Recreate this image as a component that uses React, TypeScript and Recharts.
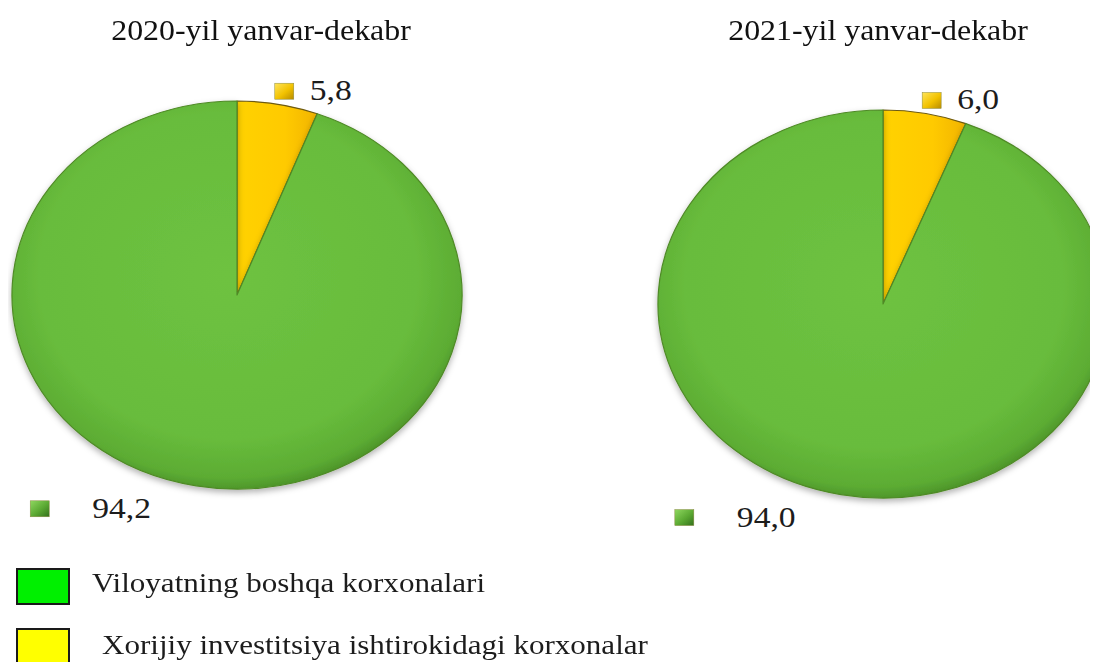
import React from 'react';
import { PieChart, Pie, Cell, Legend } from 'recharts';

// categories in data order (yellow slice first, starts at 12 o'clock)
const CATEGORIES = ['Xorijiy investitsiya ishtirokidagi korxonalar', 'Viloyatning boshqa korxonalari'];
const TITLES = ['2020-yil yanvar-dekabr', '2021-yil yanvar-dekabr'];
const VALUES_2020 = [5.8, 94.2];
const VALUES_2021 = [6.0, 94.0];
const LEGEND_ORDER = [1, 0];

const SLICE_FILLS = ['url(#gYellow)', 'url(#gGreen)'];
const MARKER_FILLS = ['url(#mYellow)', 'url(#mGreen)'];
const LEGEND_FILLS = ['#ffff00', '#00f000'];

const W = 1090;
const H = 654;
const STRETCH = 1.16; // pies are drawn as ellipses, like the original
const RAD = Math.PI / 180;
const FONT = '"Liberation Serif", "Times New Roman", serif';

const PIES = [
    { cx: 229, cy: 287, r: 194, values: VALUES_2020, title: TITLES[0], titleX: 253 },
    { cx: 875, cy: 296, r: 194, values: VALUES_2021, title: TITLES[1], titleX: 870 },
];

// label placement relative to the slice's mid point on the rim
const LABEL_NUDGE = [
    { dx: -3, dy: -21, gap: 35 },
    { dx: -166, dy: 15, gap: 62 },
];

const fmt = (v: number) => v.toFixed(1).replace('.', ',');

const EllipseSlice = (props: any) => {
    const { cx, cy, outerRadius, startAngle, endAngle, fill } = props;
    const rx = outerRadius * STRETCH;
    const ry = outerRadius;
    const pt = (a: number) => [cx + rx * Math.cos(-a * RAD), cy + ry * Math.sin(-a * RAD)];
    const [x1, y1] = pt(startAngle);
    const [x2, y2] = pt(endAngle);
    const large = Math.abs(endAngle - startAngle) > 180 ? 1 : 0;
    const sweep = startAngle > endAngle ? 1 : 0;
    const d = `M${cx},${cy} L${x1},${y1} A${rx},${ry} 0 ${large} ${sweep} ${x2},${y2} Z`;
    const big = fill === SLICE_FILLS[1];
    return (
        <path
            d={d}
            fill={fill}
            stroke={big ? '#4f8a26' : '#6d5a12'}
            strokeWidth={1.2}
            strokeLinejoin="round"
            filter={big ? 'url(#pieShadow)' : undefined}
        />
    );
};

const renderLabel = (props: any) => {
    const { cx, cy, midAngle, outerRadius, index, value } = props;
    const px = cx + outerRadius * STRETCH * Math.cos(-midAngle * RAD);
    const py = cy + outerRadius * Math.sin(-midAngle * RAD);
    const n = LABEL_NUDGE[index];
    const mx = px + n.dx;
    const my = py + n.dy;
    return (
        <g>
            <rect x={mx} y={my} width={19} height={16} fill={MARKER_FILLS[index]} stroke="#8a8a40" strokeWidth={0.5} />
            <text
                transform={`translate(${mx + n.gap},${my + 17}) scale(1.12,1)`}
                fontSize={30}
                fontFamily={FONT}
                fill="#1c1c1c"
            >
                {fmt(value)}
            </text>
        </g>
    );
};

const LegendBox = () => (
    <div style={{ position: 'relative', width: 640, height: 120, fontFamily: FONT }}>
        {LEGEND_ORDER.map((ci, i) => (
            <React.Fragment key={ci}>
                <div
                    style={{
                        position: 'absolute',
                        left: 8,
                        top: 20 + i * 60,
                        width: 50,
                        height: 33,
                        background: LEGEND_FILLS[ci],
                        border: '2px solid #1a1a1a',
                    }}
                />
                <div
                    style={{
                        position: 'absolute',
                        left: i === 0 ? 84 : 94,
                        top: 22 + i * 62,
                        fontSize: 27,
                        lineHeight: 1,
                        whiteSpace: 'nowrap',
                        color: '#1c1c1c',
                        transform: 'scaleX(1.15)',
                        transformOrigin: 'left top',
                    }}
                >
                    {CATEGORIES[ci]}
                </div>
            </React.Fragment>
        ))}
    </div>
);

export default function App() {
    return (
        <div style={{ position: 'relative', width: W, height: H, overflow: 'hidden', background: '#fff' }}>
            <svg width={0} height={0} style={{ position: 'absolute' }}>
                <defs>
                    <radialGradient id="gGreen" cx="48%" cy="45%" r="56%">
                        <stop offset="0%" stopColor="#6ec241" />
                        <stop offset="75%" stopColor="#68bc3c" />
                        <stop offset="93%" stopColor="#5cac33" />
                        <stop offset="100%" stopColor="#4a9028" />
                    </radialGradient>
                    <linearGradient id="gYellow" x1="0" y1="0" x2="1" y2="0">
                        <stop offset="0%" stopColor="#ffd200" />
                        <stop offset="60%" stopColor="#ffca00" />
                        <stop offset="100%" stopColor="#f2b400" />
                    </linearGradient>
                    <linearGradient id="mYellow" x1="0" y1="0" x2="1" y2="1">
                        <stop offset="0%" stopColor="#ffe45a" />
                        <stop offset="55%" stopColor="#f2c200" />
                        <stop offset="100%" stopColor="#b88c00" />
                    </linearGradient>
                    <linearGradient id="mGreen" x1="0" y1="0" x2="1" y2="1">
                        <stop offset="0%" stopColor="#8fd860" />
                        <stop offset="55%" stopColor="#5aa832" />
                        <stop offset="100%" stopColor="#33701c" />
                    </linearGradient>
                    <filter id="pieShadow" x="-10%" y="-10%" width="120%" height="125%">
                        <feDropShadow dx="0" dy="3" stdDeviation="3" floodColor="#000" floodOpacity="0.3" />
                    </filter>
                </defs>
            </svg>
            {PIES.map((p) => (
                <div
                    key={p.title}
                    style={{
                        position: 'absolute',
                        left: p.titleX - 200,
                        top: 8,
                        width: 400,
                        textAlign: 'center',
                        fontFamily: FONT,
                        fontSize: 29,
                        lineHeight: 1,
                        color: '#111',
                        transform: 'scaleX(1.1)',
                        whiteSpace: 'nowrap',
                    }}
                >
                    {p.title}
                </div>
            ))}
            <PieChart
                width={W}
                height={H}
                margin={{ top: 0, right: 0, bottom: 0, left: 0 }}
                style={{ position: 'absolute', left: 0, top: 0 }}
            >
                {PIES.map((p) => (
                    <Pie
                        key={p.title}
                        data={p.values.map((v, i) => ({ name: CATEGORIES[i], value: v }))}
                        dataKey="value"
                        nameKey="name"
                        cx={p.cx}
                        cy={p.cy}
                        outerRadius={p.r}
                        startAngle={90}
                        endAngle={-270}
                        shape={EllipseSlice}
                        label={renderLabel}
                        labelLine={false}
                        isAnimationActive={false}
                    >
                        {p.values.map((_, i) => (
                            <Cell key={i} fill={SLICE_FILLS[i]} />
                        ))}
                    </Pie>
                ))}
                <Legend
                    content={() => <LegendBox />}
                    wrapperStyle={{ position: 'absolute', left: 0, top: 540, width: 640, height: 120 }}
                />
            </PieChart>
        </div>
    );
}
